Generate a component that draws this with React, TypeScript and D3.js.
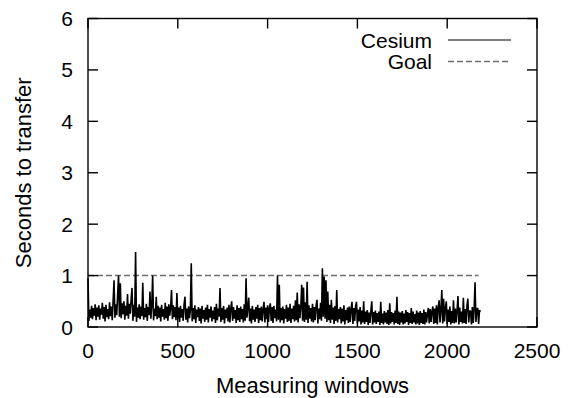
import React from "react";
import * as d3 from "d3";

// Cesium: seconds to transfer, one sample every 5 measuring windows
const step = 5;
const cesium: number[] = [
  0.95, 0.12, 0.34, 0.18, 0.41, 0.15, 0.37, 0.22, 0.44, 0.13,
  0.38, 0.2, 0.42, 0.14, 0.36, 0.24, 0.47, 0.16, 0.39, 0.11,
  0.43, 0.19, 0.35, 0.15, 0.48, 0.21, 0.4, 0.13, 0.52, 0.91,
  0.18, 0.44, 0.23, 0.62, 1.0, 0.2, 0.85, 0.17, 0.46, 0.25,
  0.5, 0.14, 0.41, 0.22, 0.64, 0.16, 0.45, 0.26, 0.53, 0.76,
  0.12, 0.43, 0.2, 1.46, 0.1, 0.38, 0.18, 0.44, 0.15, 0.4,
  0.21, 0.86, 0.14, 0.37, 0.19, 0.45, 0.12, 0.39, 0.23, 0.69,
  0.16, 0.42, 1.0, 0.13, 0.36, 0.21, 0.59, 0.15, 0.41, 0.18,
  0.38, 0.11, 0.43, 0.2, 0.35, 0.14, 0.47, 0.17, 0.4, 0.12,
  0.44, 0.22, 0.37, 0.72, 0.15, 0.42, 0.19, 0.39, 0.13, 0.66,
  0.16, 0.38, 0.1, 0.41, 0.18, 0.35, 0.12, 0.44, 0.59, 0.14,
  0.36, 0.09, 0.4, 0.17, 0.33, 1.24, 0.11, 0.37, 0.15, 0.42,
  0.08, 0.34, 0.19, 0.39, 0.12, 0.36, 0.07, 0.41, 0.16, 0.33,
  0.1, 0.38, 0.14, 0.43, 0.09, 0.35, 0.18, 0.4, 0.11, 0.32,
  0.15, 0.39, 0.08, 0.45, 0.13, 0.36, 0.2, 0.76, 0.1, 0.37,
  0.14, 0.41, 0.07, 0.34, 0.17, 0.38, 0.11, 0.43, 0.09, 0.36,
  0.5, 0.12, 0.39, 0.16, 0.33, 0.08, 0.42, 0.13, 0.37, 0.1,
  0.4, 0.15, 0.35, 0.09, 0.44, 0.12, 0.95, 0.18, 0.38, 0.57,
  0.11, 0.36, 0.07, 0.41, 0.14, 0.34, 0.1, 0.39, 0.16, 0.43,
  0.08, 0.37, 0.13, 0.4, 0.11, 0.35, 0.49, 0.09, 0.38, 0.15,
  0.42, 0.1, 0.36, 0.46, 0.12, 0.39, 0.08, 0.41, 0.17, 0.34,
  0.11, 1.0, 0.14, 0.82, 0.09, 0.37, 0.13, 0.4, 0.07, 0.35,
  0.16, 0.43, 0.1, 0.38, 0.12, 0.45, 0.08, 0.36, 0.15, 0.41,
  0.11, 0.52, 0.13, 0.67, 0.09, 0.44, 0.17, 0.4, 0.82, 0.12,
  0.77, 0.1, 0.48, 0.14, 0.88, 0.08, 0.42, 0.16, 0.37, 0.11,
  0.45, 0.09, 0.39, 0.13, 0.41, 0.53, 0.07, 0.36, 0.15, 0.47,
  0.12, 1.14, 0.2, 0.98, 0.16, 0.91, 0.1, 0.69, 0.13, 0.43,
  0.08, 0.53, 0.14, 0.38, 0.06, 0.41, 0.12, 0.72, 0.09, 0.35,
  0.15, 0.39, 0.07, 0.36, 0.11, 0.42, 0.05, 0.33, 0.13, 0.38,
  0.08, 0.4, 0.1, 0.35, 0.49, 0.06, 0.37, 0.12, 0.41, 0.49,
  0.07, 0.34, 0.11, 0.39, 0.05, 0.32, 0.09, 0.5, 0.06, 0.3,
  0.1, 0.33, 0.04, 0.28, 0.08, 0.31, 0.5, 0.05, 0.29, 0.09,
  0.32, 0.06, 0.27, 0.1, 0.3, 0.04, 0.49, 0.08, 0.26, 0.05,
  0.31, 0.09, 0.28, 0.06, 0.33, 0.04, 0.46, 0.07, 0.29, 0.1,
  0.27, 0.05, 0.32, 0.08, 0.59, 0.06, 0.3, 0.04, 0.28, 0.09,
  0.31, 0.05, 0.26, 0.07, 0.33, 0.1, 0.29, 0.04, 0.27, 0.08,
  0.37, 0.06, 0.3, 0.09, 0.25, 0.05, 0.32, 0.07, 0.28, 0.04,
  0.31, 0.08, 0.27, 0.06, 0.34, 0.05, 0.29, 0.09, 0.26, 0.37,
  0.07, 0.35, 0.1, 0.31, 0.4, 0.06, 0.36, 0.08, 0.42, 0.05,
  0.38, 0.52, 0.09, 0.33, 0.72, 0.07, 0.55, 0.11, 0.37, 0.5,
  0.06, 0.34, 0.1, 0.4, 0.05, 0.31, 0.08, 0.52, 0.07, 0.36,
  0.09, 0.33, 0.6, 0.05, 0.38, 0.1, 0.3, 0.07, 0.57, 0.08,
  0.35, 0.06, 0.41, 0.55, 0.09, 0.32, 0.3, 0.05, 0.39, 0.08,
  0.36, 0.87, 0.1, 0.34, 0.37, 0.06, 0.33, 0.3,
];

const goalX = [0, 2175];
const goalValue = 1;

const xTicks = [0, 500, 1000, 1500, 2000, 2500];
const yTicks = [0, 1, 2, 3, 4, 5, 6];
const seriesNames = ["Cesium", "Goal"];

const W = 570;
const H = 398;
const left = 88;
const right = 537;
const top = 18.5;
const bottom = 327;
const FONT = "'Liberation Sans', Arial, Helvetica, sans-serif";

export default function App() {
  const x = d3.scaleLinear().domain([0, 2500]).range([left, right]);
  const y = d3.scaleLinear().domain([0, 6]).range([bottom, top]);

  const line = d3
    .line<number>()
    .x((_, i) => x(i * step))
    .y((d) => y(d));

  const goalLine = d3
    .line<number>()
    .x((d) => x(d))
    .y(() => y(goalValue));

  const tickLen = 10;
  const dashColor = "#6e6e6e";

  return (
    <svg
      width={W}
      height={H}
      style={{ position: "absolute", left: 0, top: 0, background: "#fff" }}
      fontFamily={FONT}
    >
      <rect x={0} y={0} width={W} height={H} fill="#fff" />
      {/* goal line */}
      <path
        d={goalLine(goalX) || ""}
        fill="none"
        stroke={dashColor}
        strokeWidth={1.5}
        strokeDasharray="6,3"
      />
      {/* data */}
      <path
        d={line(cesium) || ""}
        fill="none"
        stroke="#000"
        strokeWidth={1.6}
        strokeLinejoin="bevel"
      />
      {/* frame */}
      <rect
        x={left}
        y={top}
        width={right - left}
        height={bottom - top}
        fill="none"
        stroke="#000"
        strokeWidth={1.4}
      />
      {/* x ticks */}
      {xTicks.map((t) => (
        <g key={"x" + t}>
          <line x1={x(t)} x2={x(t)} y1={bottom} y2={bottom - tickLen} stroke="#000" strokeWidth={1.4} />
          <line x1={x(t)} x2={x(t)} y1={top} y2={top + tickLen} stroke="#000" strokeWidth={1.4} />
          <text x={x(t)} y={357.5} fontSize={21} textAnchor="middle" fill="#000">
            {t}
          </text>
        </g>
      ))}
      {/* y ticks */}
      {yTicks.map((t) => (
        <g key={"y" + t}>
          <line x1={left} x2={left + tickLen} y1={y(t)} y2={y(t)} stroke="#000" strokeWidth={1.4} />
          <line x1={right} x2={right - tickLen} y1={y(t)} y2={y(t)} stroke="#000" strokeWidth={1.4} />
          <text x={73} y={y(t) + 7.5} fontSize={21} textAnchor="end" fill="#000">
            {t}
          </text>
        </g>
      ))}
      {/* axis labels */}
      <text x={(left + right) / 2} y={393} fontSize={22} textAnchor="middle" fill="#000">
        Measuring windows
      </text>
      <text
        transform={`translate(31, ${(top + bottom) / 2}) rotate(-90)`}
        fontSize={22}
        textAnchor="middle"
        fill="#000"
      >
        Seconds to transfer
      </text>
      {/* legend */}
      <text x={432} y={47.5} fontSize={21} textAnchor="end" fill="#000">
        {seriesNames[0]}
      </text>
      <line x1={448} x2={511} y1={40} y2={40} stroke="#000" strokeWidth={1.2} />
      <text x={432} y={68.5} fontSize={21} textAnchor="end" fill="#000">
        {seriesNames[1]}
      </text>
      <line x1={448} x2={511} y1={61.5} y2={61.5} stroke={dashColor} strokeWidth={1.5} strokeDasharray="6,3" />
    </svg>
  );
}
